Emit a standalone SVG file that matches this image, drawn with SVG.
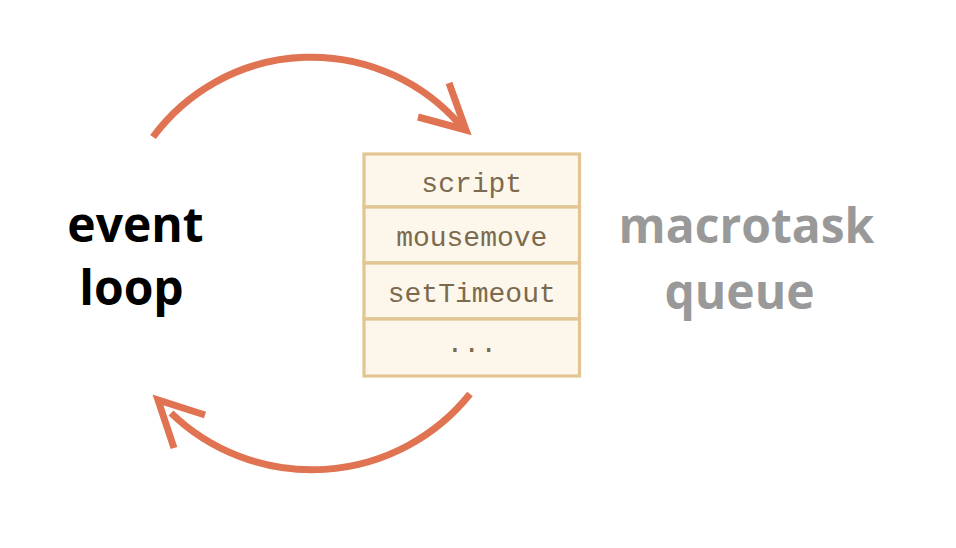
<svg xmlns="http://www.w3.org/2000/svg" width="956" height="548" viewBox="0 0 956 548">
<style>
.arc{fill:none;stroke:#e07352;stroke-width:7;stroke-linejoin:miter;stroke-miterlimit:10}
.cell{fill:#fdf7eb;stroke:#e2c592;stroke-width:3.2}
.mono{font-family:"Liberation Mono","DejaVu Sans Mono",monospace;font-size:28px;fill:#7c6a4e;text-anchor:middle}
.big{font-family:"Open Sans","Noto Sans",sans-serif;font-weight:700;font-size:48px;text-anchor:middle}
</style>
<rect width="956" height="548" fill="#ffffff"/>
<g id="connectors">
<path class="arc" d="M153,137 A197,197 0 0 1 461,126"/>
<polyline class="arc" points="449,83 466,130 418,117"/>
<path class="arc" d="M470,394 A203,203 0 0 1 171,413"/>
<polyline class="arc" points="205,415 158,400 174,448"/>
</g>
<g id="queue">
<rect class="cell" x="364" y="154" width="215.5" height="53"/>
<rect class="cell" x="364" y="207" width="215.5" height="56"/>
<rect class="cell" x="364" y="263" width="215.5" height="56"/>
<rect class="cell" x="364" y="319" width="215.5" height="57"/>
<text class="mono" x="471.75" y="192">script</text>
<text class="mono" x="471.75" y="246">mousemove</text>
<text class="mono" x="471.75" y="302">setTimeout</text>
<text class="mono" x="471.75" y="352">...</text>
</g>
<g id="event-loop">
<text class="big" x="135.5" y="242" fill="#000000">event</text>
<text class="big" x="131.5" y="305" fill="#000000">loop</text>
</g>
<g id="macrotask-queue">
<text class="big" x="746.5" y="243" fill="#999999">macrotask</text>
<text class="big" x="739.5" y="309" fill="#999999">queue</text>
</g>
</svg>
